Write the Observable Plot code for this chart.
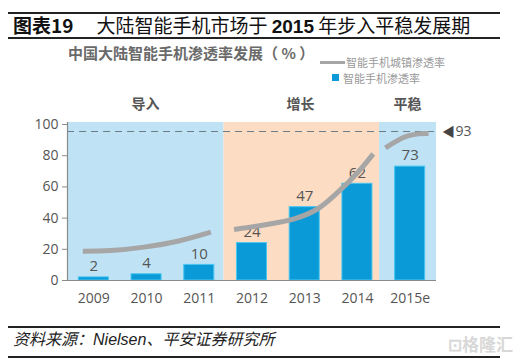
<!DOCTYPE html>
<html>
<head>
<meta charset="utf-8">
<script src="https://cdn.jsdelivr.net/npm/d3@7"></script>
<script src="https://cdn.jsdelivr.net/npm/@observablehq/plot@0.6"></script>
<style>
  html, body { margin: 0; padding: 0; background: #fff; }
  #wrap { position: relative; width: 521px; height: 363px; overflow: hidden; font-family: "Noto Sans CJK SC", "Noto Sans", sans-serif; }
  #wrap svg { position: absolute; left: 0; top: 0; }
  .abs { position: absolute; white-space: nowrap; }
  .hline { position: absolute; left: 8px; width: 492px; height: 1.5px; background: #222; }
</style>
</head>
<body>
<div id="wrap">
  <div class="hline" style="top:12px"></div>
  <div class="abs" style="left:13px; top:11px; font-size:19px; line-height:28px; color:#111;"><b>图表19</b><span style="display:inline-block;width:23px"></span>大陆智能手机市场于 <b style="font-family:'Liberation Sans',sans-serif">2015</b> 年步入平稳发展期</div>
  <div class="hline" style="top:37px"></div>
  <div class="abs" style="left:68px; top:42px; font-size:15px; line-height:22px; color:#6a6a6a; font-weight:bold;">中国大陆智能手机渗透率发展（ % ）</div>
  <div class="abs" style="left:320px; top:61px; width:25px; height:3px; background:#a6a6a6;"></div>
  <div class="abs" style="left:346px; top:54px; font-size:11px; line-height:16px; color:#9a9a9a;">智能手机城镇渗透率</div>
  <div class="abs" style="left:332px; top:74px; width:7px; height:7px; background:#0b9ad8;"></div>
  <div class="abs" style="left:343px; top:70px; font-size:11px; line-height:16px; color:#9a9a9a;">智能手机渗透率</div>
  <div id="chart"></div>
  <div class="hline" style="top:326px"></div>
  <div class="abs" style="left:13px; top:328px; font-size:16px; line-height:20px; color:#222; font-style:italic;">资料来源：<span style="font-family:'Liberation Sans',sans-serif">Nielsen</span>、平安证券研究所</div>
  <div class="hline" style="top:356px"></div>
  <div class="abs" style="left:448px; top:333px; font-size:17px; line-height:22px; color:#d8d8d8; font-weight:bold;">⊡格隆汇</div>
</div>
<script>
// ---- data ----
const years = ["2009", "2010", "2011", "2012", "2013", "2014", "2015e"];
const penetration = [2, 4, 10, 24, 47, 62, 73];

const phaseNames = ["导入", "增长", "平稳"];
const phaseStart = [-0.5, 2.47, 5.42];
const phaseEnd = [2.47, 5.42, 6.5];
const phaseLabelX = [0.98, 3.92, 5.95];
const phaseColors = ["#bfe3f5", "#fcdcc2", "#bfe3f5"];

// urban smartphone penetration curve (drawn in three pieces)
const urbanX = [-0.21, 0.32, 0.95, 1.59, 2.22,
                2.66, 3.17, 3.80, 4.25, 4.63, 5.01, 5.30,
                5.53, 5.75, 5.94, 6.15, 6.35];
const urbanY = [18.8, 19.2, 21.4, 25.2, 31,
                32.7, 35.3, 39.5, 46, 56.6, 69.4, 81.2,
                85, 89.5, 92.5, 94, 94.2];
const urbanSeg = [1, 1, 1, 1, 1,
                  2, 2, 2, 2, 2, 2, 2,
                  3, 3, 3, 3, 3];

const saturationLevel = 95.5;
const saturationLabel = "93";
const yTicks = [0, 20, 40, 60, 80, 100];

// ---- tables ----
const bars = years.map((y, i) => ({i, year: y, value: penetration[i]}));
const phases = phaseNames.map((n, i) => ({name: n, x1: phaseStart[i], x2: phaseEnd[i], lx: phaseLabelX[i], color: phaseColors[i]}));
const urban = urbanX.map((x, i) => ({x, y: urbanY[i], seg: urbanSeg[i]}));

const plot = Plot.plot({
  width: 521,
  height: 363,
  marginTop: 124,
  marginBottom: 83,
  marginLeft: 67,
  marginRight: 85,
  x: {type: "linear", domain: [-0.5, 6.5]},
  y: {domain: [0, 100]},
  style: {fontFamily: "'Open Sans', 'Noto Sans CJK SC', sans-serif", fontSize: "13px", color: "#555", background: "transparent"},
  marks: [
    Plot.rect(phases, {x1: "x1", x2: "x2", y1: 0, y2: 101.3, fill: d => d.color}),
    Plot.ruleY([saturationLevel], {x1: -0.5, x2: 6.5, stroke: "#6d7d88", strokeWidth: 1.2, strokeDasharray: "7,5"}),
    Plot.rectY(bars, {x1: d => d.i - 0.285, x2: d => d.i + 0.285, y1: 0, y2: "value", fill: "#0b9ad8", stroke: "#49c6f0", strokeWidth: 1}),
    Plot.text(bars, {x: "i", y: "value", text: d => String(d.value), dy: -11, fontSize: 15, fill: "#555"}),
    Plot.line(urban, {x: "x", y: "y", z: "seg", curve: "catmull-rom", stroke: "#a6a6a6", strokeWidth: 5, strokeLinecap: "butt"}),
    Plot.text(phases, {x: "lx", y: 113, text: "name", fontSize: 14, fontWeight: "bold", fill: "#555"}),
    Plot.text([saturationLevel], {x: 6.5, y: d => d, text: () => "◀", dx: 12, fontSize: 13, fill: "#444"}),
    Plot.text([saturationLevel], {x: 6.5, y: d => d, text: () => saturationLabel, dx: 19, textAnchor: "start", fontSize: 14, fill: "#555"}),
    Plot.ruleY([0], {stroke: "#8a8a8a", strokeWidth: 1.2}),
    Plot.ruleX([-0.5], {y1: 0, y2: 101.3, stroke: "#8a8a8a", strokeWidth: 1.2}),
    Plot.axisY({ticks: yTicks, tickSize: 5, tickPadding: 4, fontSize: 14, color: "#555", stroke: "#8a8a8a", label: null}),
    Plot.axisX({ticks: years.map((_, i) => i), tickFormat: i => years[i], tickSize: 0, tickPadding: 13, fontSize: 14, color: "#555", label: null})
  ]
});
document.getElementById("chart").appendChild(plot);
</script>
</body>
</html>
